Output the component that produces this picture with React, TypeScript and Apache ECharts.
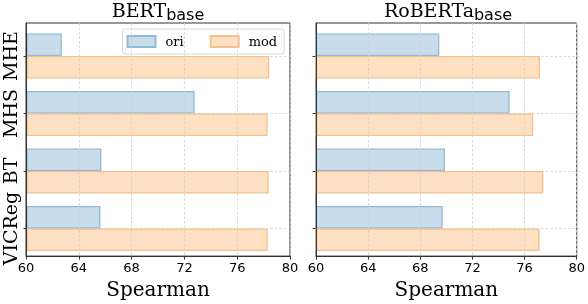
import React, { useEffect, useRef } from "react";
import * as echarts from "echarts";

const categories = ["MHE", "MHS", "BT", "VICReg"];
const bertOri = [62.65, 72.75, 65.66, 65.58];
const bertMod = [78.42, 78.3, 78.38, 78.3];
const robertaOri = [69.34, 74.67, 69.77, 69.6];
const robertaMod = [76.97, 76.46, 77.22, 76.94];
const xTickMin = 60;
const xTickMax = 80;
const xTickStep = 4;

const SERIF = "DejaVu Serif";
const SANS = "DejaVu Sans";
const ORI_FILL = "rgb(199,221,236)";
const ORI_EDGE = "rgb(150,185,214)";
const MOD_FILL = "rgb(254,224,195)";
const MOD_EDGE = "rgb(244,192,142)";
const SPINE = "#333";
const GRIDLINE = "#cfcfcf";

export default function App() {
  const ref = useRef<HTMLDivElement>(null);
  useEffect(() => {
    if (!ref.current) return;
    const chart = echarts.init(ref.current, undefined, { renderer: "svg" });

    const panels = [
      { left: 26, title: "BERT", ori: bertOri, mod: bertMod, showLabels: true },
      { left: 316, title: "RoBERTa", ori: robertaOri, mod: robertaMod, showLabels: false },
    ];
    const W = 264;
    const grids: any[] = [];
    const xAxes: any[] = [];
    const yAxes: any[] = [];
    const series: any[] = [];
    const graphics: any[] = [];

    panels.forEach((p, i) => {
      const f = i * 2;
      const d = i * 2 + 1;
      grids.push({ left: p.left, top: 23, width: W, height: 237, show: true, borderColor: SPINE, borderWidth: 1, backgroundColor: "transparent" });
      grids.push({ left: p.left, top: 27.25, width: W, height: 230 });
      xAxes.push({
        type: "value",
        gridIndex: f,
        min: xTickMin,
        max: xTickMax,
        interval: xTickStep,
        z: 5,
        axisLine: { show: true, lineStyle: { color: SPINE, width: 1 } },
        axisTick: { show: true, length: 3.5, lineStyle: { color: SPINE, width: 1 } },
        axisLabel: { show: true, margin: 5, fontFamily: SANS, fontSize: 13, color: "#000" },
        splitLine: { show: true, lineStyle: { color: GRIDLINE, width: 0.8, type: [2.5, 2] } },
        name: "Spearman",
        nameLocation: "middle",
        nameGap: 20,
        nameTextStyle: { fontFamily: SERIF, fontSize: 20, color: "#000", verticalAlign: "top" },
      });
      xAxes.push({ type: "value", gridIndex: d, min: xTickMin, max: xTickMax, show: false });
      yAxes.push({
        type: "value",
        gridIndex: f,
        min: 0,
        max: 1,
        position: "left",
        z: 5,
        axisLine: { show: true, lineStyle: { color: SPINE, width: 1 } },
        axisTick: { show: false },
        axisLabel: { show: false },
        splitLine: { show: false },
      });
      yAxes.push({
        type: "category",
        gridIndex: d,
        data: categories,
        inverse: true,
        position: "left",
        axisLine: { show: false },
        axisTick: { show: true, interval: 0, alignWithLabel: true, length: 3.5, lineStyle: { color: SPINE, width: 1 } },
        axisLabel: { show: p.showLabels, interval: 0, rotate: 90, margin: 8, fontFamily: SERIF, fontSize: 19, color: "#000" },
        splitLine: { show: true, interval: 0, alignWithLabel: true, lineStyle: { color: GRIDLINE, width: 0.8, type: [2.5, 2] } },
      });
      series.push({
        type: "bar",
        name: "ori",
        xAxisIndex: d,
        yAxisIndex: d,
        data: p.ori,
        barWidth: 22.5,
        barGap: "0%",
        itemStyle: { color: ORI_FILL, borderColor: ORI_EDGE, borderWidth: 1.3 },
      });
      series.push({
        type: "bar",
        name: "mod",
        xAxisIndex: d,
        yAxisIndex: d,
        data: p.mod,
        barWidth: 22.5,
        barGap: "0%",
        itemStyle: { color: MOD_FILL, borderColor: MOD_EDGE, borderWidth: 1.3 },
      });
      graphics.push({
        type: "text",
        x: p.left + W / 2,
        y: 0.5,
        style: {
          text: `{a|${p.title}}{b|base}`,
          align: "center",
          verticalAlign: "top",
          rich: {
            a: { fontFamily: SERIF, fontSize: 19, lineHeight: 22, verticalAlign: "top", fill: "#000" },
            b: { fontFamily: SANS, fontSize: 16, verticalAlign: "bottom", padding: [3.5, 0, 0, 0], fill: "#000" },
          },
        },
      });
    });

    chart.setOption({
      animation: false,
      grid: grids,
      xAxis: xAxes,
      yAxis: yAxes,
      series,
      graphic: graphics,
      legend: {
        data: ["ori", "mod"],
        left: 122.5,
        top: 29,
        orient: "horizontal",
        icon: "rect",
        itemWidth: 28,
        itemHeight: 11,
        itemGap: 26,
        padding: [6, 7, 6, 4],
        selectedMode: false,
        backgroundColor: "rgba(255,255,255,0.8)",
        borderColor: "#d6d6d6",
        borderWidth: 1,
        borderRadius: 3,
        textStyle: { fontFamily: SERIF, fontSize: 13, color: "#000", padding: [0, 0, 0, 5] },
      },
    });
    return () => chart.dispose();
  }, []);
  return <div ref={ref} style={{ position: "fixed", left: 0, top: 0, width: 588, height: 304 }} />;
}
